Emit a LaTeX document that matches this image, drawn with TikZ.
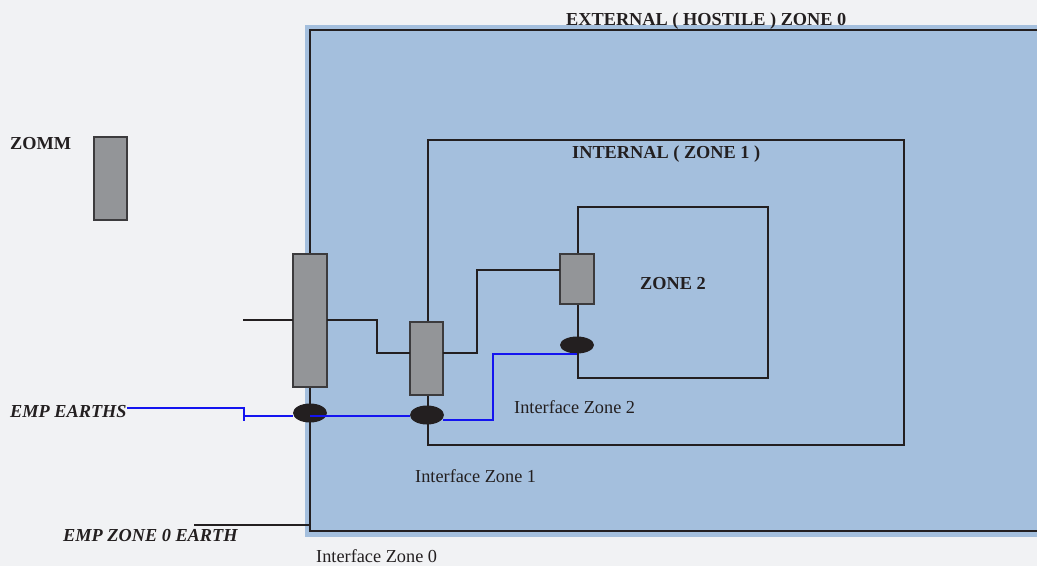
\documentclass[tikz,border=0pt]{standalone}
\usepackage{fontspec}
\setmainfont{Liberation Serif}
\usetikzlibrary{shapes.geometric}
\definecolor{bgc}{HTML}{F1F2F4}
\definecolor{zoneblue}{HTML}{A4BFDD}
\definecolor{boxgray}{HTML}{939598}
\definecolor{boxedge}{HTML}{3C3B3D}
\definecolor{ink}{HTML}{231F20}
\definecolor{wire}{HTML}{1414F0}
\tikzset{
  zoneline/.style={draw=ink, line width=1.25pt},
  wireblk/.style={draw=ink, line width=1.2pt},
  wireblue/.style={draw=wire, line width=1.6pt},
  devbox/.style={draw=boxedge, fill=boxgray, line width=1.4pt, inner sep=0pt, outer sep=0pt},
  earthpad/.style={ellipse, fill=ink, inner sep=0pt, outer sep=0pt, minimum width=34pt, minimum height=19pt},
  lab/.style={inner sep=0pt, anchor=base west, text=ink, font=\fontsize{18.3}{20}\selectfont},
  blab/.style={lab, font=\fontsize{18.3}{20}\selectfont\bfseries},
  bilab/.style={lab, font=\fontsize{18.3}{20}\selectfont\bfseries\itshape},
}
\begin{document}
\begin{tikzpicture}[x=1pt,y=-1pt]
\useasboundingbox (0,0) rectangle (1037,566);
\fill[bgc] (0,0) rectangle (1037,566);
% blue zone
\fill[zoneblue] (305,25) rectangle (1037,537);
% zone outlines
\draw[zoneline] (1040,30) -- (310,30) -- (310,531) -- (1040,531);
\draw[zoneline] (428,140) rectangle (904,445);
\draw[zoneline] (578,207) rectangle (768,378);
% titles
\node[blab] (t0) at (566,25) {EXTERNAL ( HOSTILE ) ZONE 0};
\node[blab] (t1) at (572,158) {INTERNAL ( ZONE 1 )};
\node[blab] (t2) at (640,289) {ZONE 2};
\node[blab] (tz) at (10,149) {ZOMM};
\node[lab] (i0) at (316,562) {Interface Zone 0};
\node[lab] (i1) at (415,482) {Interface Zone 1};
\node[lab] (i2) at (514,413) {Interface Zone 2};
\node[bilab] (emp) at (10,417) {EMP EARTHS};
\node[bilab] (emp0) at (63,541) {EMP ZONE 0 EARTH};
% earth line for zone 0
\coordinate (z0a) at (194,525);
\coordinate (z0b) at (310,525);
\draw[wireblk] (z0a) -- (z0b);
% devices
\node[devbox, minimum width=33pt, minimum height=83pt] (zomm) at (110.5,178.5) {};
\node[devbox, minimum width=34pt, minimum height=133pt] (b1) at (310,320.5) {};
\node[devbox, minimum width=33pt, minimum height=73pt] (b2) at (426.5,358.5) {};
\node[devbox, minimum width=34pt, minimum height=50pt] (b3) at (577,279) {};
% signal wiring
\coordinate (lin) at (243,320);
\coordinate (k1) at (377,320);
\coordinate (k2) at (377,353);
\coordinate (k3) at (477,353);
\coordinate (k4) at (477,270);
\draw[wireblk] (lin) -- (b1.west |- lin);
\draw[wireblk] (b1.east |- k1) -- (k1) -- (k2) -- (b2.west |- k2);
\draw[wireblk] (b2.east |- k3) -- (k3) -- (k4) -- (b3.west |- k4);
% earth pads
\node[earthpad] (e1) at (310,413) {};
\node[earthpad] (e2) at (427,415) {};
\node[earthpad, minimum height=17pt] (e3) at (577,345) {};
\draw[wireblk] (e1.center) -- (e1.south);
% blue earth wiring
\coordinate (w1) at (244,408);
\coordinate (w2) at (244,421);
\coordinate (w3) at (244,416);
\coordinate (w4) at (443,420);
\coordinate (w5) at (493,420);
\coordinate (w6) at (493,354);
\draw[wireblue] (emp.east |- w1) -- (w1) -- (w2);
\draw[wireblue] (w3) -- (e1.west |- w3);
\draw[wireblue] (e1.center |- w3) -- (e2.west |- w3);
\draw[wireblue] (w4) -- (w5) -- (w6) -- (e3.south |- w6);
\end{tikzpicture}
\end{document}
